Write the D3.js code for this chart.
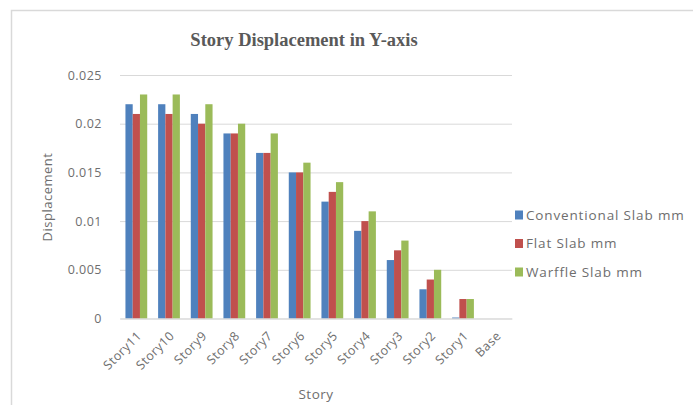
<!DOCTYPE html>
<html>
<head>
<meta charset="utf-8">
<script src="https://cdn.jsdelivr.net/npm/d3@7"></script>
<style>
html,body{margin:0;padding:0;background:#fff;}
svg{display:block;}
</style>
</head>
<body>
<svg id="chart" width="693" height="405"></svg>
<script>
const categories = ["Story11","Story10","Story9","Story8","Story7","Story6","Story5","Story4","Story3","Story2","Story1","Base"];
const seriesNames = ["Conventional Slab mm","Flat Slab mm","Warffle Slab mm"];
const conventional = [0.022,0.022,0.021,0.019,0.017,0.015,0.012,0.009,0.006,0.003,0.0001,0];
const flat         = [0.021,0.021,0.020,0.019,0.017,0.015,0.013,0.010,0.007,0.004,0.002,0];
const warffle      = [0.023,0.023,0.022,0.020,0.019,0.016,0.014,0.011,0.008,0.005,0.002,0];
const yTicks = [0,0.005,0.01,0.015,0.02,0.025];
const colors = ["#4F81BD","#C0504D","#9BBB59"];
const series = [conventional, flat, warffle];

const svg = d3.select("#chart");
const textColor = "#6e6e6e";
const font = "'Open Sans', Lato, sans-serif";
const ls = 0.5;

// outer chart border
svg.append("path")
  .attr("d","M11.5,405 L11.5,10.5 L693,10.5")
  .attr("fill","none").attr("stroke","#d9d9d9").attr("stroke-width",1.5);

const plot = {left:120, right:512, top:75, bottom:318.5};

const x = d3.scaleBand().domain(categories).range([plot.left, plot.right]).paddingInner(0).paddingOuter(0);
const bw = x.bandwidth();
const barW = bw / 4.5;
const xs = d3.scaleBand().domain(d3.range(series.length)).range([0.75*barW, 0.75*barW + 3*barW]).padding(0);
const y = d3.scaleLinear().domain([0,0.025]).range([plot.bottom, plot.top]);

// gridlines
const yAxisGrid = d3.axisLeft(y).tickValues(yTicks).tickSize(-(plot.right-plot.left)).tickFormat("");
svg.append("g").attr("transform",`translate(${plot.left},0)`).call(yAxisGrid)
  .call(g=>g.select(".domain").remove())
  .call(g=>g.selectAll(".tick line").attr("stroke","#d9d9d9").attr("stroke-width",1));

// y tick labels
const yAxis = d3.axisLeft(y).tickValues(yTicks).tickSize(0).tickPadding(18).tickFormat(d=>d===0?"0":d3.format("")(+d.toFixed(3)));
svg.append("g").attr("transform",`translate(${plot.left},0)`).call(yAxis)
  .call(g=>g.select(".domain").remove())
  .call(g=>g.selectAll("text").attr("fill",textColor).attr("font-family",font).attr("font-size",12.5).attr("letter-spacing",ls));

// bars
categories.forEach((c,i)=>{
  series.forEach((s,j)=>{
    const v = s[i];
    svg.append("rect")
      .attr("x", x(c) + xs(j))
      .attr("y", y(v))
      .attr("width", xs.bandwidth())
      .attr("height", y(0)-y(v))
      .attr("fill", colors[j]);
  });
});

// x axis line
const xAxis = d3.axisBottom(x).tickSize(0).tickPadding(0);
const xg = svg.append("g").attr("transform",`translate(0,${plot.bottom})`).call(xAxis);
xg.select(".domain").attr("stroke","#d9d9d9").attr("stroke-width",1);
xg.selectAll(".tick text")
  .attr("fill",textColor).attr("font-family",font).attr("font-size",12.5).attr("letter-spacing",ls)
  .attr("text-anchor","end")
  .attr("dy","0.35em")
  .attr("transform","translate(3,15) rotate(-45)");

// title
svg.append("text").attr("x",304).attr("y",46).attr("text-anchor","middle")
  .attr("font-family","'Liberation Serif', 'Times New Roman', serif").attr("font-weight","bold")
  .attr("font-size",18.5).attr("fill","#595959").text("Story Displacement in Y-axis");

// axis titles
svg.append("text").attr("transform","translate(52,197) rotate(-90)").attr("text-anchor","middle")
  .attr("font-family",font).attr("font-size",13).attr("letter-spacing",ls).attr("fill",textColor).text("Displacement");
svg.append("text").attr("x",316).attr("y",399).attr("text-anchor","middle")
  .attr("font-family",font).attr("font-size",13.5).attr("letter-spacing",ls).attr("fill",textColor).text("Story");

// legend
const leg = svg.append("g");
seriesNames.forEach((n,j)=>{
  const ly = 215 + j*28.5;
  leg.append("rect").attr("x",515).attr("y",ly-4.5).attr("width",8).attr("height",9).attr("fill",colors[j]);
  leg.append("text").attr("x",526).attr("y",ly).attr("dy","0.35em")
    .attr("font-family",font).attr("font-size",13.5).attr("letter-spacing",0.85).attr("fill",textColor).text(n);
});
</script>
</body>
</html>
